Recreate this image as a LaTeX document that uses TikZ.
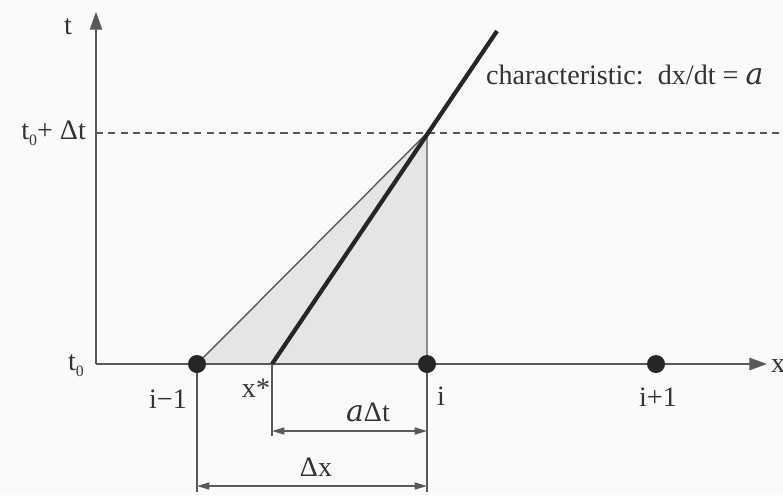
\documentclass[tikz,border=0pt]{standalone}
\usepackage{fontspec}
\setmainfont{Liberation Serif}
\newfontfamily\vitesseFont{DejaVu Serif}
\usetikzlibrary{arrows.meta}

\newcommand\vitesse{{\vitesseFont\itshape\fontsize{17}{19}\selectfont a}}
\newcommand\tzero{t\raisebox{-.45ex}{\small 0}}

\tikzset{
  noeud/.style={circle, fill=black!85, minimum size=0.36cm, inner sep=0pt},
  etiq/.style={inner sep=1pt, font=\fontsize{16}{18}\selectfont, text=black!80},
  axe/.style={draw=black!65, line width=0.8pt, -{Triangle[length=10pt,width=7pt]}},
  cote/.style={draw=black!65, line width=0.8pt, {Triangle[length=7pt,width=4pt]}-{Triangle[length=7pt,width=4pt]}},
  rappel/.style={draw=black!65, line width=0.8pt},
}

\begin{document}
\begin{tikzpicture}[x=0.02cm, y=-0.02cm]
  \fill[black!2] (0,0) rectangle (783,495);
  \useasboundingbox (0,0) rectangle (783,495);
  % axes et points
  \coordinate (O) at (96,364);
  \coordinate (tHaut) at (96,12);
  \coordinate (xFin) at (767,364);
  \coordinate (xEtoile) at (272,364);
  \coordinate (sommet) at (427,133);
  \coordinate (carFin) at (497,31);
  \coordinate (tiretG) at (96,133);
  \coordinate (tiretD) at (783,133);
  \coordinate (pim1) at (197,364);
  \coordinate (pi) at (427,364);
  \coordinate (pip1) at (656,364);
  % triangle grise
  \fill[black!10] (pim1) -- (sommet) -- (pi) -- cycle;
  \draw[rappel] (pim1) -- (sommet) -- (pi);
  \draw[rappel, dashed, dash pattern=on 4pt off 3pt] (tiretG) -- (tiretD);
  \draw[axe] (O) -- (tHaut);
  \draw[axe] (O) -- (xFin);
  \draw[line width=2.4pt, black!85] (xEtoile) -- (carFin);
  % cotes
  \coordinate (cXs) at (272,436);
  \coordinate (cIm1) at (197,492);
  \coordinate (cI) at (427,492);
  \draw[rappel] (pim1) -- (cIm1);
  \draw[rappel] (pi) -- (cI);
  \draw[rappel] (xEtoile) -- (cXs);
  \coordinate (aG) at (272,431);
  \coordinate (aD) at (427,431);
  \coordinate (dG) at (197,486);
  \coordinate (dD) at (427,486);
  \draw[cote] (aG) -- (aD);
  \draw[cote] (dG) -- (dD);
  \node[noeud] (im1) at (pim1) {};
  \node[noeud] (i) at (pi) {};
  \node[noeud] (ip1) at (pip1) {};
  % textes
  \node[etiq] (lt) at (68,27) {t};
  \node[etiq, anchor=east] (lttop) at (88,133) {\tzero+ Δt};
  \node[etiq, anchor=east] (lt0) at (86,366) {\tzero};
  \node[etiq, anchor=west] (lx) at (769,366) {x};
  \node[etiq] (lim1) at (168,399) {i−1};
  \node[etiq] (lxs) at (256,388) {x*};
  \node[etiq] (li) at (441,396) {i};
  \node[etiq] (lip1) at (658,397) {i+1};
  \node[etiq] (lat) at (368,412) {\vitesse Δt};
  \node[etiq] (ldx) at (316,467) {Δx};
  \node[etiq, anchor=west] (lcar) at (484,75) {characteristic:\ \ dx/dt = \vitesse};
\end{tikzpicture}
\end{document}
